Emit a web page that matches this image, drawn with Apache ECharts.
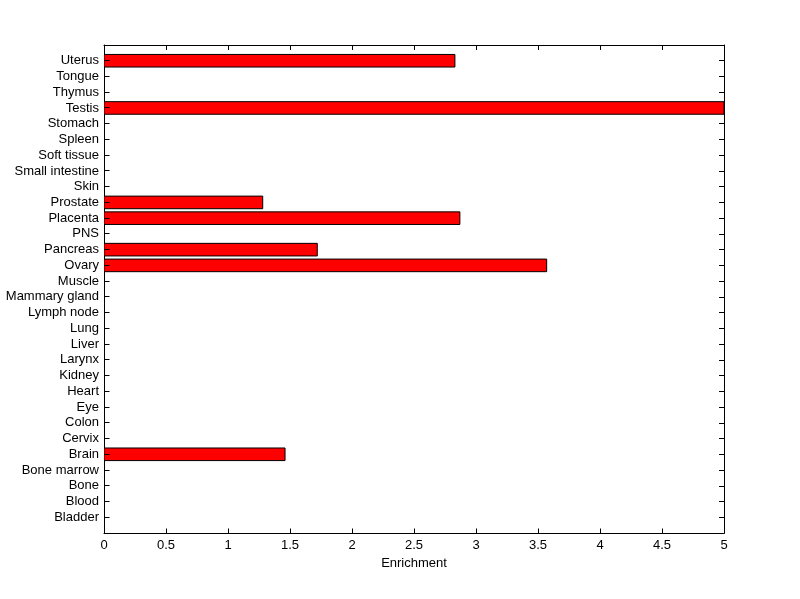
<!DOCTYPE html>
<html>
<head>
<meta charset="utf-8">
<script src="https://cdn.jsdelivr.net/npm/echarts@6/dist/echarts.min.js"></script>
<style>html,body{margin:0;padding:0;background:#fff;}#c{width:800px;height:599px;}</style>
</head>
<body>
<div id="c"></div>
<script>
const categories = ["Bladder","Blood","Bone","Bone marrow","Brain","Cervix","Colon","Eye","Heart","Kidney","Larynx","Liver","Lung","Lymph node","Mammary gland","Muscle","Ovary","Pancreas","PNS","Placenta","Prostate","Skin","Small intestine","Soft tissue","Spleen","Stomach","Testis","Thymus","Tongue","Uterus"];
const enrichment = [0,0,0,0,1.46,0,0,0,0,0,0,0,0,0,0,0,3.57,1.72,0,2.87,1.28,0,0,0,0,0,5,0,0,2.83];
const xTicks = [0,0.5,1,1.5,2,2.5,3,3.5,4,4.5,5];

const font = "Liberation Sans, Arial, sans-serif";
const TICK = 5;
const data = enrichment.map((v,i)=>[v,i+1]);
const chart = echarts.init(document.getElementById('c'));
const catFmt = v => (v>=1 && v<=categories.length && Number.isInteger(v)) ? categories[v-1] : '';
const tickIn = () => ({show:true,inside:true,length:TICK,lineStyle:{color:'#000',width:1}});
const lineOn = () => ({show:true,onZero:false,lineStyle:{color:'#000',width:1}});
const crisp = v => Math.floor(v)+0.5;
chart.setOption({
  animation:false,
  backgroundColor:'#fff',
  grid:{left:104,top:45,width:620,height:488,show:false},
  xAxis:[{
    type:'value',min:0,max:5,interval:0.5,position:'top',
    axisLine:lineOn(),axisTick:tickIn(),
    axisLabel:{show:false},splitLine:{show:false}
  },{
    type:'value',min:xTicks[0],max:xTicks[xTicks.length-1],interval:0.5,position:'bottom',
    name:'Enrichment',nameLocation:'middle',nameGap:23,
    nameTextStyle:{color:'#000',fontSize:13,fontFamily:font},
    axisLine:lineOn(),axisTick:{show:false},
    axisLabel:{color:'#000',fontSize:13,fontFamily:font,margin:6},
    splitLine:{show:false}
  }],
  yAxis:[{
    type:'value',min:0,max:31,interval:1,position:'right',
    axisLine:lineOn(),axisTick:tickIn(),
    axisLabel:{show:false},splitLine:{show:false}
  },{
    type:'value',min:0,max:31,interval:1,position:'left',
    axisLine:lineOn(),axisTick:{show:false},
    axisLabel:{color:'#000',fontSize:13,fontFamily:font,margin:5,formatter:catFmt,showMinLabel:false,showMaxLabel:false},
    splitLine:{show:false}
  }],
  series:[{
    type:'custom',xAxisIndex:1,yAxisIndex:1,clip:true,
    data:data,
    encode:{x:0,y:1},
    renderItem:function(params,api){
      const v=api.value(0), c=api.value(1);
      if(!v) return null;
      const p0=api.coord([0,c]);
      const p1=api.coord([v,c]);
      const h=api.size([0,0.8])[1];
      const cs=params.coordSys;
      const rect=echarts.graphic.clipRectByRect({x:p0[0],y:p0[1]-h/2,width:p1[0]-p0[0],height:h},
        {x:cs.x,y:cs.y,width:cs.width,height:cs.height});
      return {type:'rect',shape:rect,style:{fill:'#ff0000',stroke:'#000',lineWidth:1}};
    }
  },{
    type:'custom',xAxisIndex:1,yAxisIndex:1,clip:false,silent:true,
    data:xTicks.map(v=>[v,0]),
    encode:{x:0,y:1},
    renderItem:function(params,api){
      const p=api.coord([api.value(0),api.value(1)]);
      const x=crisp(p[0]), y=crisp(p[1]);
      return {type:'line',shape:{x1:x,y1:y,x2:x,y2:y-TICK},style:{stroke:'#000',lineWidth:1}};
    }
  },{
    type:'custom',xAxisIndex:1,yAxisIndex:1,clip:false,silent:true,
    data:categories.map((c,i)=>[0,i+1]),
    encode:{x:0,y:1},
    renderItem:function(params,api){
      const p=api.coord([api.value(0),api.value(1)]);
      const x=crisp(p[0]), y=crisp(p[1]);
      return {type:'line',shape:{x1:x,y1:y,x2:x+TICK,y2:y},style:{stroke:'#000',lineWidth:1}};
    }
  }]
});
</script>
</body>
</html>
